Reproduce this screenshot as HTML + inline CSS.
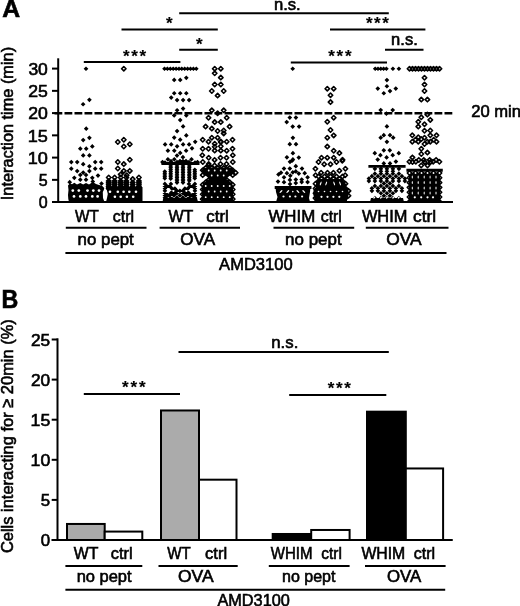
<!DOCTYPE html>
<html><head><meta charset="utf-8"><style>
html,body{margin:0;padding:0;background:#fff;width:520px;height:606px;overflow:hidden}
svg{display:block;filter:blur(0.35px)}
text{font-family:"Liberation Sans",sans-serif;fill:#000;stroke:#000;stroke-width:0.6px}
</style></head><body>
<svg width="520" height="606" viewBox="0 0 520 606">
<rect width="520" height="606" fill="#fff"/>
<defs><clipPath id="ca"><rect x="0" y="0" width="520" height="202"/></clipPath></defs><g clip-path="url(#ca)"><path d="M123.8 66.5l2.2 2.2 -2.2 2.2 -2.2 -2.2zM117.8 139.8l2.2 2.2 -2.2 2.2 -2.2 -2.2zM123.8 137.6l2.2 2.2 -2.2 2.2 -2.2 -2.2zM129.8 142.0l2.2 2.2 -2.2 2.2 -2.2 -2.2zM123.8 144.3l2.2 2.2 -2.2 2.2 -2.2 -2.2zM129.8 157.6l2.2 2.2 -2.2 2.2 -2.2 -2.2zM117.8 159.8l2.2 2.2 -2.2 2.2 -2.2 -2.2zM123.8 161.9l2.2 2.2 -2.2 2.2 -2.2 -2.2zM117.8 166.3l2.2 2.2 -2.2 2.2 -2.2 -2.2zM123.8 168.7l2.2 2.2 -2.2 2.2 -2.2 -2.2zM129.8 168.7l2.2 2.2 -2.2 2.2 -2.2 -2.2zM120.7 172.2l2.2 2.2 -2.2 2.2 -2.2 -2.2zM126.7 173.0l2.2 2.2 -2.2 2.2 -2.2 -2.2zM132.7 176.8l2.2 2.2 -2.2 2.2 -2.2 -2.2zM138.9 175.3l2.2 2.2 -2.2 2.2 -2.2 -2.2zM108.7 175.3l2.2 2.2 -2.2 2.2 -2.2 -2.2zM108.7 178.8l2.2 2.2 -2.2 2.2 -2.2 -2.2zM108.7 180.7l2.2 2.2 -2.2 2.2 -2.2 -2.2zM108.7 182.6l2.2 2.2 -2.2 2.2 -2.2 -2.2zM108.7 184.4l2.2 2.2 -2.2 2.2 -2.2 -2.2zM108.7 186.3l2.2 2.2 -2.2 2.2 -2.2 -2.2zM114.6 175.3l2.2 2.2 -2.2 2.2 -2.2 -2.2zM114.6 178.8l2.2 2.2 -2.2 2.2 -2.2 -2.2zM114.6 180.7l2.2 2.2 -2.2 2.2 -2.2 -2.2zM114.6 182.6l2.2 2.2 -2.2 2.2 -2.2 -2.2zM114.6 184.4l2.2 2.2 -2.2 2.2 -2.2 -2.2zM114.6 186.3l2.2 2.2 -2.2 2.2 -2.2 -2.2zM120.7 175.3l2.2 2.2 -2.2 2.2 -2.2 -2.2zM120.7 178.8l2.2 2.2 -2.2 2.2 -2.2 -2.2zM120.7 180.7l2.2 2.2 -2.2 2.2 -2.2 -2.2zM120.7 182.6l2.2 2.2 -2.2 2.2 -2.2 -2.2zM120.7 184.4l2.2 2.2 -2.2 2.2 -2.2 -2.2zM120.7 186.3l2.2 2.2 -2.2 2.2 -2.2 -2.2zM126.4 175.3l2.2 2.2 -2.2 2.2 -2.2 -2.2zM126.4 178.8l2.2 2.2 -2.2 2.2 -2.2 -2.2zM126.4 180.7l2.2 2.2 -2.2 2.2 -2.2 -2.2zM126.4 182.6l2.2 2.2 -2.2 2.2 -2.2 -2.2zM126.4 184.4l2.2 2.2 -2.2 2.2 -2.2 -2.2zM126.4 186.3l2.2 2.2 -2.2 2.2 -2.2 -2.2zM132.7 177.0l2.2 2.2 -2.2 2.2 -2.2 -2.2zM132.7 180.3l2.2 2.2 -2.2 2.2 -2.2 -2.2zM132.7 182.3l2.2 2.2 -2.2 2.2 -2.2 -2.2zM132.7 184.3l2.2 2.2 -2.2 2.2 -2.2 -2.2zM132.7 186.3l2.2 2.2 -2.2 2.2 -2.2 -2.2zM138.9 175.3l2.2 2.2 -2.2 2.2 -2.2 -2.2zM138.9 178.8l2.2 2.2 -2.2 2.2 -2.2 -2.2zM138.9 180.7l2.2 2.2 -2.2 2.2 -2.2 -2.2zM138.9 182.6l2.2 2.2 -2.2 2.2 -2.2 -2.2zM138.9 184.4l2.2 2.2 -2.2 2.2 -2.2 -2.2zM138.9 186.3l2.2 2.2 -2.2 2.2 -2.2 -2.2zM214.7 66.5l2.2 2.2 -2.2 2.2 -2.2 -2.2zM220.8 66.5l2.2 2.2 -2.2 2.2 -2.2 -2.2zM214.7 71.1l2.2 2.2 -2.2 2.2 -2.2 -2.2zM220.8 75.4l2.2 2.2 -2.2 2.2 -2.2 -2.2zM214.7 82.3l2.2 2.2 -2.2 2.2 -2.2 -2.2zM220.8 82.3l2.2 2.2 -2.2 2.2 -2.2 -2.2zM211.8 88.8l2.2 2.2 -2.2 2.2 -2.2 -2.2zM223.7 88.8l2.2 2.2 -2.2 2.2 -2.2 -2.2zM217.6 93.4l2.2 2.2 -2.2 2.2 -2.2 -2.2zM211.8 108.1l2.2 2.2 -2.2 2.2 -2.2 -2.2zM223.7 108.1l2.2 2.2 -2.2 2.2 -2.2 -2.2zM217.6 111.0l2.2 2.2 -2.2 2.2 -2.2 -2.2zM208.5 115.6l2.2 2.2 -2.2 2.2 -2.2 -2.2zM226.7 115.6l2.2 2.2 -2.2 2.2 -2.2 -2.2zM214.7 119.9l2.2 2.2 -2.2 2.2 -2.2 -2.2zM220.8 119.9l2.2 2.2 -2.2 2.2 -2.2 -2.2zM205.6 124.4l2.2 2.2 -2.2 2.2 -2.2 -2.2zM229.6 124.4l2.2 2.2 -2.2 2.2 -2.2 -2.2zM211.8 126.4l2.2 2.2 -2.2 2.2 -2.2 -2.2zM217.6 128.8l2.2 2.2 -2.2 2.2 -2.2 -2.2zM223.7 128.3l2.2 2.2 -2.2 2.2 -2.2 -2.2zM223.7 131.2l2.2 2.2 -2.2 2.2 -2.2 -2.2zM211.8 135.5l2.2 2.2 -2.2 2.2 -2.2 -2.2zM217.6 135.5l2.2 2.2 -2.2 2.2 -2.2 -2.2zM202.7 137.6l2.2 2.2 -2.2 2.2 -2.2 -2.2zM232.5 137.6l2.2 2.2 -2.2 2.2 -2.2 -2.2zM208.5 139.5l2.2 2.2 -2.2 2.2 -2.2 -2.2zM220.8 139.3l2.2 2.2 -2.2 2.2 -2.2 -2.2zM226.7 139.5l2.2 2.2 -2.2 2.2 -2.2 -2.2zM214.7 141.6l2.2 2.2 -2.2 2.2 -2.2 -2.2zM214.7 144.6l2.2 2.2 -2.2 2.2 -2.2 -2.2zM214.7 148.4l2.2 2.2 -2.2 2.2 -2.2 -2.2zM220.8 139.9l2.2 2.2 -2.2 2.2 -2.2 -2.2zM220.8 144.1l2.2 2.2 -2.2 2.2 -2.2 -2.2zM220.8 148.4l2.2 2.2 -2.2 2.2 -2.2 -2.2zM202.7 146.6l2.2 2.2 -2.2 2.2 -2.2 -2.2zM208.5 146.6l2.2 2.2 -2.2 2.2 -2.2 -2.2zM226.7 148.5l2.2 2.2 -2.2 2.2 -2.2 -2.2zM232.5 146.6l2.2 2.2 -2.2 2.2 -2.2 -2.2zM202.3 153.0l2.2 2.2 -2.2 2.2 -2.2 -2.2zM208.7 155.6l2.2 2.2 -2.2 2.2 -2.2 -2.2zM214.6 157.7l2.2 2.2 -2.2 2.2 -2.2 -2.2zM220.5 155.6l2.2 2.2 -2.2 2.2 -2.2 -2.2zM226.5 155.6l2.2 2.2 -2.2 2.2 -2.2 -2.2zM232.8 153.0l2.2 2.2 -2.2 2.2 -2.2 -2.2zM202.8 159.8l2.2 2.2 -2.2 2.2 -2.2 -2.2zM232.8 159.8l2.2 2.2 -2.2 2.2 -2.2 -2.2zM208.7 161.8l2.2 2.2 -2.2 2.2 -2.2 -2.2zM214.6 163.3l2.2 2.2 -2.2 2.2 -2.2 -2.2zM220.5 161.8l2.2 2.2 -2.2 2.2 -2.2 -2.2zM226.5 161.8l2.2 2.2 -2.2 2.2 -2.2 -2.2zM208.7 163.3l2.2 2.2 -2.2 2.2 -2.2 -2.2zM205.7 165.7l2.2 2.2 -2.2 2.2 -2.2 -2.2zM211.7 165.7l2.2 2.2 -2.2 2.2 -2.2 -2.2zM217.7 165.7l2.2 2.2 -2.2 2.2 -2.2 -2.2zM223.7 165.7l2.2 2.2 -2.2 2.2 -2.2 -2.2zM229.7 165.7l2.2 2.2 -2.2 2.2 -2.2 -2.2zM202.7 168.1l2.2 2.2 -2.2 2.2 -2.2 -2.2zM208.7 168.1l2.2 2.2 -2.2 2.2 -2.2 -2.2zM214.7 168.1l2.2 2.2 -2.2 2.2 -2.2 -2.2zM220.7 168.1l2.2 2.2 -2.2 2.2 -2.2 -2.2zM226.7 168.1l2.2 2.2 -2.2 2.2 -2.2 -2.2zM232.7 168.1l2.2 2.2 -2.2 2.2 -2.2 -2.2zM205.7 170.5l2.2 2.2 -2.2 2.2 -2.2 -2.2zM211.7 170.5l2.2 2.2 -2.2 2.2 -2.2 -2.2zM217.7 170.5l2.2 2.2 -2.2 2.2 -2.2 -2.2zM223.7 170.5l2.2 2.2 -2.2 2.2 -2.2 -2.2zM229.7 170.5l2.2 2.2 -2.2 2.2 -2.2 -2.2zM235.7 170.5l2.2 2.2 -2.2 2.2 -2.2 -2.2zM202.7 172.9l2.2 2.2 -2.2 2.2 -2.2 -2.2zM208.7 172.9l2.2 2.2 -2.2 2.2 -2.2 -2.2zM214.7 172.9l2.2 2.2 -2.2 2.2 -2.2 -2.2zM220.7 172.9l2.2 2.2 -2.2 2.2 -2.2 -2.2zM226.7 172.9l2.2 2.2 -2.2 2.2 -2.2 -2.2zM232.7 172.9l2.2 2.2 -2.2 2.2 -2.2 -2.2zM211.7 175.3l2.2 2.2 -2.2 2.2 -2.2 -2.2zM217.7 175.3l2.2 2.2 -2.2 2.2 -2.2 -2.2zM223.7 175.3l2.2 2.2 -2.2 2.2 -2.2 -2.2zM208.7 177.7l2.2 2.2 -2.2 2.2 -2.2 -2.2zM214.7 177.7l2.2 2.2 -2.2 2.2 -2.2 -2.2zM220.7 177.7l2.2 2.2 -2.2 2.2 -2.2 -2.2zM226.7 177.7l2.2 2.2 -2.2 2.2 -2.2 -2.2zM205.7 180.1l2.2 2.2 -2.2 2.2 -2.2 -2.2zM211.7 180.1l2.2 2.2 -2.2 2.2 -2.2 -2.2zM217.7 180.1l2.2 2.2 -2.2 2.2 -2.2 -2.2zM223.7 180.1l2.2 2.2 -2.2 2.2 -2.2 -2.2zM229.7 180.1l2.2 2.2 -2.2 2.2 -2.2 -2.2zM202.7 182.5l2.2 2.2 -2.2 2.2 -2.2 -2.2zM208.7 182.5l2.2 2.2 -2.2 2.2 -2.2 -2.2zM214.7 182.5l2.2 2.2 -2.2 2.2 -2.2 -2.2zM220.7 182.5l2.2 2.2 -2.2 2.2 -2.2 -2.2zM226.7 182.5l2.2 2.2 -2.2 2.2 -2.2 -2.2zM232.7 182.5l2.2 2.2 -2.2 2.2 -2.2 -2.2zM205.7 184.9l2.2 2.2 -2.2 2.2 -2.2 -2.2zM211.7 184.9l2.2 2.2 -2.2 2.2 -2.2 -2.2zM217.7 184.9l2.2 2.2 -2.2 2.2 -2.2 -2.2zM223.7 184.9l2.2 2.2 -2.2 2.2 -2.2 -2.2zM229.7 184.9l2.2 2.2 -2.2 2.2 -2.2 -2.2zM202.7 187.3l2.2 2.2 -2.2 2.2 -2.2 -2.2zM208.7 187.3l2.2 2.2 -2.2 2.2 -2.2 -2.2zM214.7 187.3l2.2 2.2 -2.2 2.2 -2.2 -2.2zM220.7 187.3l2.2 2.2 -2.2 2.2 -2.2 -2.2zM226.7 187.3l2.2 2.2 -2.2 2.2 -2.2 -2.2zM232.7 187.3l2.2 2.2 -2.2 2.2 -2.2 -2.2zM205.7 189.7l2.2 2.2 -2.2 2.2 -2.2 -2.2zM211.7 189.7l2.2 2.2 -2.2 2.2 -2.2 -2.2zM217.7 189.7l2.2 2.2 -2.2 2.2 -2.2 -2.2zM223.7 189.7l2.2 2.2 -2.2 2.2 -2.2 -2.2zM229.7 189.7l2.2 2.2 -2.2 2.2 -2.2 -2.2zM202.7 192.1l2.2 2.2 -2.2 2.2 -2.2 -2.2zM208.7 192.1l2.2 2.2 -2.2 2.2 -2.2 -2.2zM214.7 192.1l2.2 2.2 -2.2 2.2 -2.2 -2.2zM220.7 192.1l2.2 2.2 -2.2 2.2 -2.2 -2.2zM226.7 192.1l2.2 2.2 -2.2 2.2 -2.2 -2.2zM232.7 192.1l2.2 2.2 -2.2 2.2 -2.2 -2.2zM205.7 194.5l2.2 2.2 -2.2 2.2 -2.2 -2.2zM211.7 194.5l2.2 2.2 -2.2 2.2 -2.2 -2.2zM217.7 194.5l2.2 2.2 -2.2 2.2 -2.2 -2.2zM223.7 194.5l2.2 2.2 -2.2 2.2 -2.2 -2.2zM229.7 194.5l2.2 2.2 -2.2 2.2 -2.2 -2.2zM202.7 196.9l2.2 2.2 -2.2 2.2 -2.2 -2.2zM208.7 196.9l2.2 2.2 -2.2 2.2 -2.2 -2.2zM214.7 196.9l2.2 2.2 -2.2 2.2 -2.2 -2.2zM220.7 196.9l2.2 2.2 -2.2 2.2 -2.2 -2.2zM226.7 196.9l2.2 2.2 -2.2 2.2 -2.2 -2.2zM232.7 196.9l2.2 2.2 -2.2 2.2 -2.2 -2.2zM205.7 199.3l2.2 2.2 -2.2 2.2 -2.2 -2.2zM211.7 199.3l2.2 2.2 -2.2 2.2 -2.2 -2.2zM217.7 199.3l2.2 2.2 -2.2 2.2 -2.2 -2.2zM223.7 199.3l2.2 2.2 -2.2 2.2 -2.2 -2.2zM229.7 199.3l2.2 2.2 -2.2 2.2 -2.2 -2.2zM327.3 86.5l2.2 2.2 -2.2 2.2 -2.2 -2.2zM333.7 86.5l2.2 2.2 -2.2 2.2 -2.2 -2.2zM330.5 93.0l2.2 2.2 -2.2 2.2 -2.2 -2.2zM330.5 99.9l2.2 2.2 -2.2 2.2 -2.2 -2.2zM333.7 115.5l2.2 2.2 -2.2 2.2 -2.2 -2.2zM327.3 119.6l2.2 2.2 -2.2 2.2 -2.2 -2.2zM330.5 127.8l2.2 2.2 -2.2 2.2 -2.2 -2.2zM333.7 133.2l2.2 2.2 -2.2 2.2 -2.2 -2.2zM327.3 135.5l2.2 2.2 -2.2 2.2 -2.2 -2.2zM327.3 144.4l2.2 2.2 -2.2 2.2 -2.2 -2.2zM333.7 148.6l2.2 2.2 -2.2 2.2 -2.2 -2.2zM339.4 150.9l2.2 2.2 -2.2 2.2 -2.2 -2.2zM321.5 155.5l2.2 2.2 -2.2 2.2 -2.2 -2.2zM327.3 155.5l2.2 2.2 -2.2 2.2 -2.2 -2.2zM333.7 155.5l2.2 2.2 -2.2 2.2 -2.2 -2.2zM342.5 157.6l2.2 2.2 -2.2 2.2 -2.2 -2.2zM318.5 159.8l2.2 2.2 -2.2 2.2 -2.2 -2.2zM324.2 162.0l2.2 2.2 -2.2 2.2 -2.2 -2.2zM330.5 162.0l2.2 2.2 -2.2 2.2 -2.2 -2.2zM336.5 159.8l2.2 2.2 -2.2 2.2 -2.2 -2.2zM342.3 158.6l2.2 2.2 -2.2 2.2 -2.2 -2.2zM315.4 166.6l2.2 2.2 -2.2 2.2 -2.2 -2.2zM345.4 166.6l2.2 2.2 -2.2 2.2 -2.2 -2.2zM339.4 168.5l2.2 2.2 -2.2 2.2 -2.2 -2.2zM315.6 173.0l2.2 2.2 -2.2 2.2 -2.2 -2.2zM345.2 173.0l2.2 2.2 -2.2 2.2 -2.2 -2.2zM321.1 170.5l2.2 2.2 -2.2 2.2 -2.2 -2.2zM327.5 170.5l2.2 2.2 -2.2 2.2 -2.2 -2.2zM333.4 170.5l2.2 2.2 -2.2 2.2 -2.2 -2.2zM318.5 174.3l2.2 2.2 -2.2 2.2 -2.2 -2.2zM324.5 174.3l2.2 2.2 -2.2 2.2 -2.2 -2.2zM330.5 174.3l2.2 2.2 -2.2 2.2 -2.2 -2.2zM336.5 174.3l2.2 2.2 -2.2 2.2 -2.2 -2.2zM342.5 174.3l2.2 2.2 -2.2 2.2 -2.2 -2.2zM321.5 176.7l2.2 2.2 -2.2 2.2 -2.2 -2.2zM327.5 176.7l2.2 2.2 -2.2 2.2 -2.2 -2.2zM333.5 176.7l2.2 2.2 -2.2 2.2 -2.2 -2.2zM339.5 176.7l2.2 2.2 -2.2 2.2 -2.2 -2.2zM318.5 179.1l2.2 2.2 -2.2 2.2 -2.2 -2.2zM324.5 179.1l2.2 2.2 -2.2 2.2 -2.2 -2.2zM330.5 179.1l2.2 2.2 -2.2 2.2 -2.2 -2.2zM336.5 179.1l2.2 2.2 -2.2 2.2 -2.2 -2.2zM342.5 179.1l2.2 2.2 -2.2 2.2 -2.2 -2.2zM315.5 181.5l2.2 2.2 -2.2 2.2 -2.2 -2.2zM321.5 181.5l2.2 2.2 -2.2 2.2 -2.2 -2.2zM327.5 181.5l2.2 2.2 -2.2 2.2 -2.2 -2.2zM333.5 181.5l2.2 2.2 -2.2 2.2 -2.2 -2.2zM339.5 181.5l2.2 2.2 -2.2 2.2 -2.2 -2.2zM345.5 181.5l2.2 2.2 -2.2 2.2 -2.2 -2.2zM318.5 183.9l2.2 2.2 -2.2 2.2 -2.2 -2.2zM324.5 183.9l2.2 2.2 -2.2 2.2 -2.2 -2.2zM330.5 183.9l2.2 2.2 -2.2 2.2 -2.2 -2.2zM336.5 183.9l2.2 2.2 -2.2 2.2 -2.2 -2.2zM342.5 183.9l2.2 2.2 -2.2 2.2 -2.2 -2.2zM315.5 186.3l2.2 2.2 -2.2 2.2 -2.2 -2.2zM321.5 186.3l2.2 2.2 -2.2 2.2 -2.2 -2.2zM327.5 186.3l2.2 2.2 -2.2 2.2 -2.2 -2.2zM333.5 186.3l2.2 2.2 -2.2 2.2 -2.2 -2.2zM339.5 186.3l2.2 2.2 -2.2 2.2 -2.2 -2.2zM345.5 186.3l2.2 2.2 -2.2 2.2 -2.2 -2.2zM318.5 188.7l2.2 2.2 -2.2 2.2 -2.2 -2.2zM324.5 188.7l2.2 2.2 -2.2 2.2 -2.2 -2.2zM330.5 188.7l2.2 2.2 -2.2 2.2 -2.2 -2.2zM336.5 188.7l2.2 2.2 -2.2 2.2 -2.2 -2.2zM342.5 188.7l2.2 2.2 -2.2 2.2 -2.2 -2.2zM348.5 188.7l2.2 2.2 -2.2 2.2 -2.2 -2.2zM315.5 191.1l2.2 2.2 -2.2 2.2 -2.2 -2.2zM321.5 191.1l2.2 2.2 -2.2 2.2 -2.2 -2.2zM327.5 191.1l2.2 2.2 -2.2 2.2 -2.2 -2.2zM333.5 191.1l2.2 2.2 -2.2 2.2 -2.2 -2.2zM339.5 191.1l2.2 2.2 -2.2 2.2 -2.2 -2.2zM345.5 191.1l2.2 2.2 -2.2 2.2 -2.2 -2.2zM318.5 193.5l2.2 2.2 -2.2 2.2 -2.2 -2.2zM324.5 193.5l2.2 2.2 -2.2 2.2 -2.2 -2.2zM330.5 193.5l2.2 2.2 -2.2 2.2 -2.2 -2.2zM336.5 193.5l2.2 2.2 -2.2 2.2 -2.2 -2.2zM342.5 193.5l2.2 2.2 -2.2 2.2 -2.2 -2.2zM348.5 193.5l2.2 2.2 -2.2 2.2 -2.2 -2.2zM315.5 195.9l2.2 2.2 -2.2 2.2 -2.2 -2.2zM321.5 195.9l2.2 2.2 -2.2 2.2 -2.2 -2.2zM327.5 195.9l2.2 2.2 -2.2 2.2 -2.2 -2.2zM333.5 195.9l2.2 2.2 -2.2 2.2 -2.2 -2.2zM339.5 195.9l2.2 2.2 -2.2 2.2 -2.2 -2.2zM345.5 195.9l2.2 2.2 -2.2 2.2 -2.2 -2.2zM318.5 198.3l2.2 2.2 -2.2 2.2 -2.2 -2.2zM324.5 198.3l2.2 2.2 -2.2 2.2 -2.2 -2.2zM330.5 198.3l2.2 2.2 -2.2 2.2 -2.2 -2.2zM336.5 198.3l2.2 2.2 -2.2 2.2 -2.2 -2.2zM342.5 198.3l2.2 2.2 -2.2 2.2 -2.2 -2.2zM409.5 66.5l2.2 2.2 -2.2 2.2 -2.2 -2.2zM412.5 66.5l2.2 2.2 -2.2 2.2 -2.2 -2.2zM415.5 66.5l2.2 2.2 -2.2 2.2 -2.2 -2.2zM418.5 66.5l2.2 2.2 -2.2 2.2 -2.2 -2.2zM421.5 66.5l2.2 2.2 -2.2 2.2 -2.2 -2.2zM424.5 66.5l2.2 2.2 -2.2 2.2 -2.2 -2.2zM427.5 66.5l2.2 2.2 -2.2 2.2 -2.2 -2.2zM430.5 66.5l2.2 2.2 -2.2 2.2 -2.2 -2.2zM433.5 66.5l2.2 2.2 -2.2 2.2 -2.2 -2.2zM436.5 66.5l2.2 2.2 -2.2 2.2 -2.2 -2.2zM439.5 66.5l2.2 2.2 -2.2 2.2 -2.2 -2.2zM424.5 75.6l2.2 2.2 -2.2 2.2 -2.2 -2.2zM424.5 82.3l2.2 2.2 -2.2 2.2 -2.2 -2.2zM424.5 88.8l2.2 2.2 -2.2 2.2 -2.2 -2.2zM421.3 97.4l2.2 2.2 -2.2 2.2 -2.2 -2.2zM427.4 97.4l2.2 2.2 -2.2 2.2 -2.2 -2.2zM427.4 112.4l2.2 2.2 -2.2 2.2 -2.2 -2.2zM421.3 115.1l2.2 2.2 -2.2 2.2 -2.2 -2.2zM430.3 117.7l2.2 2.2 -2.2 2.2 -2.2 -2.2zM418.3 119.6l2.2 2.2 -2.2 2.2 -2.2 -2.2zM424.5 122.0l2.2 2.2 -2.2 2.2 -2.2 -2.2zM418.3 124.4l2.2 2.2 -2.2 2.2 -2.2 -2.2zM424.5 128.6l2.2 2.2 -2.2 2.2 -2.2 -2.2zM430.3 128.3l2.2 2.2 -2.2 2.2 -2.2 -2.2zM412.3 133.1l2.2 2.2 -2.2 2.2 -2.2 -2.2zM430.3 133.1l2.2 2.2 -2.2 2.2 -2.2 -2.2zM436.5 133.1l2.2 2.2 -2.2 2.2 -2.2 -2.2zM418.3 135.0l2.2 2.2 -2.2 2.2 -2.2 -2.2zM421.3 136.9l2.2 2.2 -2.2 2.2 -2.2 -2.2zM424.5 135.5l2.2 2.2 -2.2 2.2 -2.2 -2.2zM415.4 137.6l2.2 2.2 -2.2 2.2 -2.2 -2.2zM412.3 139.5l2.2 2.2 -2.2 2.2 -2.2 -2.2zM418.3 139.5l2.2 2.2 -2.2 2.2 -2.2 -2.2zM433.7 137.6l2.2 2.2 -2.2 2.2 -2.2 -2.2zM427.4 139.5l2.2 2.2 -2.2 2.2 -2.2 -2.2zM430.3 139.5l2.2 2.2 -2.2 2.2 -2.2 -2.2zM436.5 139.5l2.2 2.2 -2.2 2.2 -2.2 -2.2zM424.5 141.8l2.2 2.2 -2.2 2.2 -2.2 -2.2zM421.3 146.6l2.2 2.2 -2.2 2.2 -2.2 -2.2zM421.3 151.8l2.2 2.2 -2.2 2.2 -2.2 -2.2zM427.4 150.4l2.2 2.2 -2.2 2.2 -2.2 -2.2zM412.4 155.2l2.2 2.2 -2.2 2.2 -2.2 -2.2zM423.8 157.7l2.2 2.2 -2.2 2.2 -2.2 -2.2zM429.7 157.7l2.2 2.2 -2.2 2.2 -2.2 -2.2zM409.4 159.6l2.2 2.2 -2.2 2.2 -2.2 -2.2zM415.8 159.6l2.2 2.2 -2.2 2.2 -2.2 -2.2zM418.8 157.7l2.2 2.2 -2.2 2.2 -2.2 -2.2zM433.2 159.6l2.2 2.2 -2.2 2.2 -2.2 -2.2zM436.1 157.7l2.2 2.2 -2.2 2.2 -2.2 -2.2zM439.4 159.6l2.2 2.2 -2.2 2.2 -2.2 -2.2zM421.2 163.3l2.2 2.2 -2.2 2.2 -2.2 -2.2zM427.5 163.3l2.2 2.2 -2.2 2.2 -2.2 -2.2zM412.5 159.8l2.2 2.2 -2.2 2.2 -2.2 -2.2zM424.5 159.8l2.2 2.2 -2.2 2.2 -2.2 -2.2zM430.6 159.8l2.2 2.2 -2.2 2.2 -2.2 -2.2zM409.5 170.8l2.2 2.2 -2.2 2.2 -2.2 -2.2zM415.5 170.8l2.2 2.2 -2.2 2.2 -2.2 -2.2zM421.5 170.8l2.2 2.2 -2.2 2.2 -2.2 -2.2zM427.5 170.8l2.2 2.2 -2.2 2.2 -2.2 -2.2zM433.5 170.8l2.2 2.2 -2.2 2.2 -2.2 -2.2zM439.5 170.8l2.2 2.2 -2.2 2.2 -2.2 -2.2zM412.5 173.2l2.2 2.2 -2.2 2.2 -2.2 -2.2zM418.5 173.2l2.2 2.2 -2.2 2.2 -2.2 -2.2zM424.5 173.2l2.2 2.2 -2.2 2.2 -2.2 -2.2zM430.5 173.2l2.2 2.2 -2.2 2.2 -2.2 -2.2zM436.5 173.2l2.2 2.2 -2.2 2.2 -2.2 -2.2zM409.5 175.6l2.2 2.2 -2.2 2.2 -2.2 -2.2zM415.5 175.6l2.2 2.2 -2.2 2.2 -2.2 -2.2zM421.5 175.6l2.2 2.2 -2.2 2.2 -2.2 -2.2zM427.5 175.6l2.2 2.2 -2.2 2.2 -2.2 -2.2zM433.5 175.6l2.2 2.2 -2.2 2.2 -2.2 -2.2zM439.5 175.6l2.2 2.2 -2.2 2.2 -2.2 -2.2zM412.5 178.0l2.2 2.2 -2.2 2.2 -2.2 -2.2zM418.5 178.0l2.2 2.2 -2.2 2.2 -2.2 -2.2zM424.5 178.0l2.2 2.2 -2.2 2.2 -2.2 -2.2zM430.5 178.0l2.2 2.2 -2.2 2.2 -2.2 -2.2zM436.5 178.0l2.2 2.2 -2.2 2.2 -2.2 -2.2zM409.5 180.4l2.2 2.2 -2.2 2.2 -2.2 -2.2zM415.5 180.4l2.2 2.2 -2.2 2.2 -2.2 -2.2zM421.5 180.4l2.2 2.2 -2.2 2.2 -2.2 -2.2zM427.5 180.4l2.2 2.2 -2.2 2.2 -2.2 -2.2zM433.5 180.4l2.2 2.2 -2.2 2.2 -2.2 -2.2zM439.5 180.4l2.2 2.2 -2.2 2.2 -2.2 -2.2zM412.5 182.8l2.2 2.2 -2.2 2.2 -2.2 -2.2zM418.5 182.8l2.2 2.2 -2.2 2.2 -2.2 -2.2zM424.5 182.8l2.2 2.2 -2.2 2.2 -2.2 -2.2zM430.5 182.8l2.2 2.2 -2.2 2.2 -2.2 -2.2zM436.5 182.8l2.2 2.2 -2.2 2.2 -2.2 -2.2zM409.5 185.2l2.2 2.2 -2.2 2.2 -2.2 -2.2zM415.5 185.2l2.2 2.2 -2.2 2.2 -2.2 -2.2zM421.5 185.2l2.2 2.2 -2.2 2.2 -2.2 -2.2zM427.5 185.2l2.2 2.2 -2.2 2.2 -2.2 -2.2zM433.5 185.2l2.2 2.2 -2.2 2.2 -2.2 -2.2zM439.5 185.2l2.2 2.2 -2.2 2.2 -2.2 -2.2zM412.5 187.6l2.2 2.2 -2.2 2.2 -2.2 -2.2zM418.5 187.6l2.2 2.2 -2.2 2.2 -2.2 -2.2zM424.5 187.6l2.2 2.2 -2.2 2.2 -2.2 -2.2zM430.5 187.6l2.2 2.2 -2.2 2.2 -2.2 -2.2zM436.5 187.6l2.2 2.2 -2.2 2.2 -2.2 -2.2zM409.5 190.0l2.2 2.2 -2.2 2.2 -2.2 -2.2zM415.5 190.0l2.2 2.2 -2.2 2.2 -2.2 -2.2zM421.5 190.0l2.2 2.2 -2.2 2.2 -2.2 -2.2zM427.5 190.0l2.2 2.2 -2.2 2.2 -2.2 -2.2zM433.5 190.0l2.2 2.2 -2.2 2.2 -2.2 -2.2zM439.5 190.0l2.2 2.2 -2.2 2.2 -2.2 -2.2zM412.5 192.4l2.2 2.2 -2.2 2.2 -2.2 -2.2zM418.5 192.4l2.2 2.2 -2.2 2.2 -2.2 -2.2zM424.5 192.4l2.2 2.2 -2.2 2.2 -2.2 -2.2zM430.5 192.4l2.2 2.2 -2.2 2.2 -2.2 -2.2zM436.5 192.4l2.2 2.2 -2.2 2.2 -2.2 -2.2zM409.5 194.8l2.2 2.2 -2.2 2.2 -2.2 -2.2zM415.5 194.8l2.2 2.2 -2.2 2.2 -2.2 -2.2zM421.5 194.8l2.2 2.2 -2.2 2.2 -2.2 -2.2zM427.5 194.8l2.2 2.2 -2.2 2.2 -2.2 -2.2zM433.5 194.8l2.2 2.2 -2.2 2.2 -2.2 -2.2zM439.5 194.8l2.2 2.2 -2.2 2.2 -2.2 -2.2zM412.5 197.2l2.2 2.2 -2.2 2.2 -2.2 -2.2zM418.5 197.2l2.2 2.2 -2.2 2.2 -2.2 -2.2zM424.5 197.2l2.2 2.2 -2.2 2.2 -2.2 -2.2zM430.5 197.2l2.2 2.2 -2.2 2.2 -2.2 -2.2zM436.5 197.2l2.2 2.2 -2.2 2.2 -2.2 -2.2zM409.5 199.6l2.2 2.2 -2.2 2.2 -2.2 -2.2zM415.5 199.6l2.2 2.2 -2.2 2.2 -2.2 -2.2zM421.5 199.6l2.2 2.2 -2.2 2.2 -2.2 -2.2zM427.5 199.6l2.2 2.2 -2.2 2.2 -2.2 -2.2zM433.5 199.6l2.2 2.2 -2.2 2.2 -2.2 -2.2zM439.5 199.6l2.2 2.2 -2.2 2.2 -2.2 -2.2z" fill="none" stroke="#000" stroke-width="1.6" stroke-linejoin="round"/>
<polygon points="69,202 68.3,199 68,195 68.5,190 68,185.5 70,183.3 72,184.2 74.3,182.8 77,184.5 80.3,183 83.2,184.6 86,183 89,184.5 92.8,182 96,184 99,185 102,185.8 104.3,188 103.8,190 102.8,192 103,198 104.5,202" fill="#000"/>
<polygon points="106,202 107,198 107.8,194 106.8,190 105.8,187 142.5,187 142.5,202" fill="#000"/>
<polygon points="163.5,198 197,198 198,202 162.5,202" fill="#000"/>
<polygon points="206,167.5 230,167.5 234.5,170 232,174 225.5,178.2 232,183.5 233,186 233,202 202,202 202,186 203,183.5 210,178.2 203.5,174 201,170" fill="#000"/>
<polygon points="275.5,187 310.5,187 310,192 309,198 310,202 276,202 277.5,197 276,192" fill="#000"/>
<polygon points="318,179 342,179 346,184 346,190 316,190 316,184" fill="#000"/>
<polygon points="315,188 347,188 348.5,190 348.5,195.5 347,198 347,202 314.5,202 314.5,198 313.5,195.5 313.5,190" fill="#000"/>
<polygon points="371,198 403,198 404,202 370,202" fill="#000"/>
<polygon points="409,174 440,174 440,202 409,202" fill="#000"/>
<path d="M86.0 66.4l2.35 2.35 -2.35 2.35 -2.35 -2.35zM89.4 97.5l2.35 2.35 -2.35 2.35 -2.35 -2.35zM83.1 101.9l2.35 2.35 -2.35 2.35 -2.35 -2.35zM86.2 126.3l2.35 2.35 -2.35 2.35 -2.35 -2.35zM89.4 135.5l2.35 2.35 -2.35 2.35 -2.35 -2.35zM83.2 137.7l2.35 2.35 -2.35 2.35 -2.35 -2.35zM80.3 146.3l2.35 2.35 -2.35 2.35 -2.35 -2.35zM86.2 146.3l2.35 2.35 -2.35 2.35 -2.35 -2.35zM92.3 144.1l2.35 2.35 -2.35 2.35 -2.35 -2.35zM83.2 153.1l2.35 2.35 -2.35 2.35 -2.35 -2.35zM89.4 153.1l2.35 2.35 -2.35 2.35 -2.35 -2.35zM71.3 159.7l2.35 2.35 -2.35 2.35 -2.35 -2.35zM77.2 159.7l2.35 2.35 -2.35 2.35 -2.35 -2.35zM95.2 159.7l2.35 2.35 -2.35 2.35 -2.35 -2.35zM101.2 159.7l2.35 2.35 -2.35 2.35 -2.35 -2.35zM83.2 161.8l2.35 2.35 -2.35 2.35 -2.35 -2.35zM89.4 164.0l2.35 2.35 -2.35 2.35 -2.35 -2.35zM71.3 166.3l2.35 2.35 -2.35 2.35 -2.35 -2.35zM95.2 166.3l2.35 2.35 -2.35 2.35 -2.35 -2.35zM101.2 166.3l2.35 2.35 -2.35 2.35 -2.35 -2.35zM77.2 168.7l2.35 2.35 -2.35 2.35 -2.35 -2.35zM89.4 168.7l2.35 2.35 -2.35 2.35 -2.35 -2.35zM83.2 170.2l2.35 2.35 -2.35 2.35 -2.35 -2.35zM80.3 172.6l2.35 2.35 -2.35 2.35 -2.35 -2.35zM86.0 172.6l2.35 2.35 -2.35 2.35 -2.35 -2.35zM98.0 173.2l2.35 2.35 -2.35 2.35 -2.35 -2.35zM74.3 175.5l2.35 2.35 -2.35 2.35 -2.35 -2.35zM92.3 175.5l2.35 2.35 -2.35 2.35 -2.35 -2.35zM80.3 177.3l2.35 2.35 -2.35 2.35 -2.35 -2.35zM86.0 177.3l2.35 2.35 -2.35 2.35 -2.35 -2.35zM69.7 179.8l2.35 2.35 -2.35 2.35 -2.35 -2.35zM92.8 179.2l2.35 2.35 -2.35 2.35 -2.35 -2.35zM101.5 181.2l2.35 2.35 -2.35 2.35 -2.35 -2.35zM164.5 66.4l2.35 2.35 -2.35 2.35 -2.35 -2.35zM167.4 66.4l2.35 2.35 -2.35 2.35 -2.35 -2.35zM170.3 66.4l2.35 2.35 -2.35 2.35 -2.35 -2.35zM173.2 66.4l2.35 2.35 -2.35 2.35 -2.35 -2.35zM176.1 66.4l2.35 2.35 -2.35 2.35 -2.35 -2.35zM179.0 66.4l2.35 2.35 -2.35 2.35 -2.35 -2.35zM181.8 66.4l2.35 2.35 -2.35 2.35 -2.35 -2.35zM184.7 66.4l2.35 2.35 -2.35 2.35 -2.35 -2.35zM187.6 66.4l2.35 2.35 -2.35 2.35 -2.35 -2.35zM190.5 66.4l2.35 2.35 -2.35 2.35 -2.35 -2.35zM193.4 66.4l2.35 2.35 -2.35 2.35 -2.35 -2.35zM196.3 66.4l2.35 2.35 -2.35 2.35 -2.35 -2.35zM174.2 77.6l2.35 2.35 -2.35 2.35 -2.35 -2.35zM180.2 77.6l2.35 2.35 -2.35 2.35 -2.35 -2.35zM186.3 75.5l2.35 2.35 -2.35 2.35 -2.35 -2.35zM174.2 90.9l2.35 2.35 -2.35 2.35 -2.35 -2.35zM180.2 90.9l2.35 2.35 -2.35 2.35 -2.35 -2.35zM186.3 90.9l2.35 2.35 -2.35 2.35 -2.35 -2.35zM171.2 95.2l2.35 2.35 -2.35 2.35 -2.35 -2.35zM177.1 97.7l2.35 2.35 -2.35 2.35 -2.35 -2.35zM183.1 97.7l2.35 2.35 -2.35 2.35 -2.35 -2.35zM189.1 97.7l2.35 2.35 -2.35 2.35 -2.35 -2.35zM183.1 106.2l2.35 2.35 -2.35 2.35 -2.35 -2.35zM177.1 107.9l2.35 2.35 -2.35 2.35 -2.35 -2.35zM174.2 113.1l2.35 2.35 -2.35 2.35 -2.35 -2.35zM186.3 113.1l2.35 2.35 -2.35 2.35 -2.35 -2.35zM180.2 117.7l2.35 2.35 -2.35 2.35 -2.35 -2.35zM183.1 124.1l2.35 2.35 -2.35 2.35 -2.35 -2.35zM177.1 128.7l2.35 2.35 -2.35 2.35 -2.35 -2.35zM186.3 133.1l2.35 2.35 -2.35 2.35 -2.35 -2.35zM174.2 135.2l2.35 2.35 -2.35 2.35 -2.35 -2.35zM180.2 137.3l2.35 2.35 -2.35 2.35 -2.35 -2.35zM195.2 139.5l2.35 2.35 -2.35 2.35 -2.35 -2.35zM165.1 142.1l2.35 2.35 -2.35 2.35 -2.35 -2.35zM171.2 142.1l2.35 2.35 -2.35 2.35 -2.35 -2.35zM183.1 142.1l2.35 2.35 -2.35 2.35 -2.35 -2.35zM189.1 142.1l2.35 2.35 -2.35 2.35 -2.35 -2.35zM177.1 144.0l2.35 2.35 -2.35 2.35 -2.35 -2.35zM192.0 146.0l2.35 2.35 -2.35 2.35 -2.35 -2.35zM167.9 148.3l2.35 2.35 -2.35 2.35 -2.35 -2.35zM174.3 148.3l2.35 2.35 -2.35 2.35 -2.35 -2.35zM186.1 148.3l2.35 2.35 -2.35 2.35 -2.35 -2.35zM180.2 150.6l2.35 2.35 -2.35 2.35 -2.35 -2.35zM177.0 153.2l2.35 2.35 -2.35 2.35 -2.35 -2.35zM182.9 154.8l2.35 2.35 -2.35 2.35 -2.35 -2.35zM167.9 157.0l2.35 2.35 -2.35 2.35 -2.35 -2.35zM174.3 157.0l2.35 2.35 -2.35 2.35 -2.35 -2.35zM191.5 157.0l2.35 2.35 -2.35 2.35 -2.35 -2.35zM186.0 158.7l2.35 2.35 -2.35 2.35 -2.35 -2.35zM180.0 158.7l2.35 2.35 -2.35 2.35 -2.35 -2.35zM162.5 159.7l2.35 2.35 -2.35 2.35 -2.35 -2.35zM197.5 159.7l2.35 2.35 -2.35 2.35 -2.35 -2.35zM164.8 169.2l2.35 2.35 -2.35 2.35 -2.35 -2.35zM164.8 170.8l2.35 2.35 -2.35 2.35 -2.35 -2.35zM164.8 172.6l2.35 2.35 -2.35 2.35 -2.35 -2.35zM164.8 174.3l2.35 2.35 -2.35 2.35 -2.35 -2.35zM164.8 176.0l2.35 2.35 -2.35 2.35 -2.35 -2.35zM170.7 163.7l2.35 2.35 -2.35 2.35 -2.35 -2.35zM170.7 165.5l2.35 2.35 -2.35 2.35 -2.35 -2.35zM170.7 167.3l2.35 2.35 -2.35 2.35 -2.35 -2.35zM170.7 169.1l2.35 2.35 -2.35 2.35 -2.35 -2.35zM170.7 170.9l2.35 2.35 -2.35 2.35 -2.35 -2.35zM170.7 172.7l2.35 2.35 -2.35 2.35 -2.35 -2.35zM170.7 174.5l2.35 2.35 -2.35 2.35 -2.35 -2.35zM170.7 176.3l2.35 2.35 -2.35 2.35 -2.35 -2.35zM177.0 163.7l2.35 2.35 -2.35 2.35 -2.35 -2.35zM177.0 165.3l2.35 2.35 -2.35 2.35 -2.35 -2.35zM177.0 167.0l2.35 2.35 -2.35 2.35 -2.35 -2.35zM177.0 168.6l2.35 2.35 -2.35 2.35 -2.35 -2.35zM177.0 170.2l2.35 2.35 -2.35 2.35 -2.35 -2.35zM177.0 171.9l2.35 2.35 -2.35 2.35 -2.35 -2.35zM177.0 173.6l2.35 2.35 -2.35 2.35 -2.35 -2.35zM177.0 175.2l2.35 2.35 -2.35 2.35 -2.35 -2.35zM177.0 176.8l2.35 2.35 -2.35 2.35 -2.35 -2.35zM177.0 178.5l2.35 2.35 -2.35 2.35 -2.35 -2.35zM177.0 180.2l2.35 2.35 -2.35 2.35 -2.35 -2.35zM183.0 163.7l2.35 2.35 -2.35 2.35 -2.35 -2.35zM183.0 165.3l2.35 2.35 -2.35 2.35 -2.35 -2.35zM183.0 167.0l2.35 2.35 -2.35 2.35 -2.35 -2.35zM183.0 168.6l2.35 2.35 -2.35 2.35 -2.35 -2.35zM183.0 170.2l2.35 2.35 -2.35 2.35 -2.35 -2.35zM183.0 171.9l2.35 2.35 -2.35 2.35 -2.35 -2.35zM183.0 173.6l2.35 2.35 -2.35 2.35 -2.35 -2.35zM183.0 175.2l2.35 2.35 -2.35 2.35 -2.35 -2.35zM183.0 176.8l2.35 2.35 -2.35 2.35 -2.35 -2.35zM183.0 178.5l2.35 2.35 -2.35 2.35 -2.35 -2.35zM183.0 180.2l2.35 2.35 -2.35 2.35 -2.35 -2.35zM189.3 163.7l2.35 2.35 -2.35 2.35 -2.35 -2.35zM189.3 165.3l2.35 2.35 -2.35 2.35 -2.35 -2.35zM189.3 166.9l2.35 2.35 -2.35 2.35 -2.35 -2.35zM189.3 168.6l2.35 2.35 -2.35 2.35 -2.35 -2.35zM189.3 170.2l2.35 2.35 -2.35 2.35 -2.35 -2.35zM189.3 171.9l2.35 2.35 -2.35 2.35 -2.35 -2.35zM189.3 173.5l2.35 2.35 -2.35 2.35 -2.35 -2.35zM189.3 175.2l2.35 2.35 -2.35 2.35 -2.35 -2.35zM189.3 176.8l2.35 2.35 -2.35 2.35 -2.35 -2.35zM189.3 178.5l2.35 2.35 -2.35 2.35 -2.35 -2.35zM194.8 167.5l2.35 2.35 -2.35 2.35 -2.35 -2.35zM194.8 169.2l2.35 2.35 -2.35 2.35 -2.35 -2.35zM194.8 170.9l2.35 2.35 -2.35 2.35 -2.35 -2.35zM194.8 172.6l2.35 2.35 -2.35 2.35 -2.35 -2.35zM194.8 174.3l2.35 2.35 -2.35 2.35 -2.35 -2.35zM194.8 176.0l2.35 2.35 -2.35 2.35 -2.35 -2.35zM171.0 158.8l2.35 2.35 -2.35 2.35 -2.35 -2.35zM177.0 159.7l2.35 2.35 -2.35 2.35 -2.35 -2.35zM183.0 158.8l2.35 2.35 -2.35 2.35 -2.35 -2.35zM189.0 159.7l2.35 2.35 -2.35 2.35 -2.35 -2.35zM165.0 160.2l2.35 2.35 -2.35 2.35 -2.35 -2.35zM195.0 160.2l2.35 2.35 -2.35 2.35 -2.35 -2.35zM194.9 181.6l2.35 2.35 -2.35 2.35 -2.35 -2.35zM164.9 181.6l2.35 2.35 -2.35 2.35 -2.35 -2.35zM170.9 181.6l2.35 2.35 -2.35 2.35 -2.35 -2.35zM188.9 181.6l2.35 2.35 -2.35 2.35 -2.35 -2.35zM192.9 183.8l2.35 2.35 -2.35 2.35 -2.35 -2.35zM194.9 183.8l2.35 2.35 -2.35 2.35 -2.35 -2.35zM164.9 183.8l2.35 2.35 -2.35 2.35 -2.35 -2.35zM166.9 183.8l2.35 2.35 -2.35 2.35 -2.35 -2.35zM169.9 183.8l2.35 2.35 -2.35 2.35 -2.35 -2.35zM189.9 183.8l2.35 2.35 -2.35 2.35 -2.35 -2.35zM194.9 186.2l2.35 2.35 -2.35 2.35 -2.35 -2.35zM164.9 186.2l2.35 2.35 -2.35 2.35 -2.35 -2.35zM171.9 186.2l2.35 2.35 -2.35 2.35 -2.35 -2.35zM174.9 186.2l2.35 2.35 -2.35 2.35 -2.35 -2.35zM184.9 186.2l2.35 2.35 -2.35 2.35 -2.35 -2.35zM187.9 186.2l2.35 2.35 -2.35 2.35 -2.35 -2.35zM194.9 188.5l2.35 2.35 -2.35 2.35 -2.35 -2.35zM164.9 188.5l2.35 2.35 -2.35 2.35 -2.35 -2.35zM176.9 188.5l2.35 2.35 -2.35 2.35 -2.35 -2.35zM179.9 188.5l2.35 2.35 -2.35 2.35 -2.35 -2.35zM182.9 188.5l2.35 2.35 -2.35 2.35 -2.35 -2.35zM194.9 190.8l2.35 2.35 -2.35 2.35 -2.35 -2.35zM164.9 190.8l2.35 2.35 -2.35 2.35 -2.35 -2.35zM170.9 190.8l2.35 2.35 -2.35 2.35 -2.35 -2.35zM171.9 190.8l2.35 2.35 -2.35 2.35 -2.35 -2.35zM174.9 190.8l2.35 2.35 -2.35 2.35 -2.35 -2.35zM176.9 190.8l2.35 2.35 -2.35 2.35 -2.35 -2.35zM182.9 190.8l2.35 2.35 -2.35 2.35 -2.35 -2.35zM184.9 190.8l2.35 2.35 -2.35 2.35 -2.35 -2.35zM187.9 190.8l2.35 2.35 -2.35 2.35 -2.35 -2.35zM188.9 190.8l2.35 2.35 -2.35 2.35 -2.35 -2.35zM192.9 193.1l2.35 2.35 -2.35 2.35 -2.35 -2.35zM194.9 193.1l2.35 2.35 -2.35 2.35 -2.35 -2.35zM164.9 193.1l2.35 2.35 -2.35 2.35 -2.35 -2.35zM166.9 193.1l2.35 2.35 -2.35 2.35 -2.35 -2.35zM167.9 193.1l2.35 2.35 -2.35 2.35 -2.35 -2.35zM169.9 193.1l2.35 2.35 -2.35 2.35 -2.35 -2.35zM173.9 193.1l2.35 2.35 -2.35 2.35 -2.35 -2.35zM179.9 193.1l2.35 2.35 -2.35 2.35 -2.35 -2.35zM185.9 193.1l2.35 2.35 -2.35 2.35 -2.35 -2.35zM189.9 193.1l2.35 2.35 -2.35 2.35 -2.35 -2.35zM191.9 193.1l2.35 2.35 -2.35 2.35 -2.35 -2.35zM194.9 195.3l2.35 2.35 -2.35 2.35 -2.35 -2.35zM164.9 195.3l2.35 2.35 -2.35 2.35 -2.35 -2.35zM170.9 195.3l2.35 2.35 -2.35 2.35 -2.35 -2.35zM176.9 195.3l2.35 2.35 -2.35 2.35 -2.35 -2.35zM182.9 195.3l2.35 2.35 -2.35 2.35 -2.35 -2.35zM188.9 195.3l2.35 2.35 -2.35 2.35 -2.35 -2.35zM191.9 197.7l2.35 2.35 -2.35 2.35 -2.35 -2.35zM194.9 197.7l2.35 2.35 -2.35 2.35 -2.35 -2.35zM164.9 197.7l2.35 2.35 -2.35 2.35 -2.35 -2.35zM167.9 197.7l2.35 2.35 -2.35 2.35 -2.35 -2.35zM173.9 197.7l2.35 2.35 -2.35 2.35 -2.35 -2.35zM179.9 197.7l2.35 2.35 -2.35 2.35 -2.35 -2.35zM185.9 197.7l2.35 2.35 -2.35 2.35 -2.35 -2.35zM292.7 66.4l2.35 2.35 -2.35 2.35 -2.35 -2.35zM289.8 115.2l2.35 2.35 -2.35 2.35 -2.35 -2.35zM295.9 115.2l2.35 2.35 -2.35 2.35 -2.35 -2.35zM286.7 119.7l2.35 2.35 -2.35 2.35 -2.35 -2.35zM292.7 124.2l2.35 2.35 -2.35 2.35 -2.35 -2.35zM299.1 124.2l2.35 2.35 -2.35 2.35 -2.35 -2.35zM292.9 135.5l2.35 2.35 -2.35 2.35 -2.35 -2.35zM289.8 141.8l2.35 2.35 -2.35 2.35 -2.35 -2.35zM296.0 141.8l2.35 2.35 -2.35 2.35 -2.35 -2.35zM292.9 150.8l2.35 2.35 -2.35 2.35 -2.35 -2.35zM286.9 155.0l2.35 2.35 -2.35 2.35 -2.35 -2.35zM298.8 155.2l2.35 2.35 -2.35 2.35 -2.35 -2.35zM292.9 157.1l2.35 2.35 -2.35 2.35 -2.35 -2.35zM290.0 159.5l2.35 2.35 -2.35 2.35 -2.35 -2.35zM292.4 158.1l2.35 2.35 -2.35 2.35 -2.35 -2.35zM295.8 163.8l2.35 2.35 -2.35 2.35 -2.35 -2.35zM284.0 166.2l2.35 2.35 -2.35 2.35 -2.35 -2.35zM289.8 166.2l2.35 2.35 -2.35 2.35 -2.35 -2.35zM302.0 166.2l2.35 2.35 -2.35 2.35 -2.35 -2.35zM278.5 172.1l2.35 2.35 -2.35 2.35 -2.35 -2.35zM281.0 170.3l2.35 2.35 -2.35 2.35 -2.35 -2.35zM286.9 170.8l2.35 2.35 -2.35 2.35 -2.35 -2.35zM292.8 170.0l2.35 2.35 -2.35 2.35 -2.35 -2.35zM295.8 169.1l2.35 2.35 -2.35 2.35 -2.35 -2.35zM298.8 171.2l2.35 2.35 -2.35 2.35 -2.35 -2.35zM304.7 170.8l2.35 2.35 -2.35 2.35 -2.35 -2.35zM284.0 175.0l2.35 2.35 -2.35 2.35 -2.35 -2.35zM290.3 173.3l2.35 2.35 -2.35 2.35 -2.35 -2.35zM295.8 177.2l2.35 2.35 -2.35 2.35 -2.35 -2.35zM301.7 177.2l2.35 2.35 -2.35 2.35 -2.35 -2.35zM307.6 175.0l2.35 2.35 -2.35 2.35 -2.35 -2.35zM278.0 179.2l2.35 2.35 -2.35 2.35 -2.35 -2.35zM284.0 179.8l2.35 2.35 -2.35 2.35 -2.35 -2.35zM289.9 177.6l2.35 2.35 -2.35 2.35 -2.35 -2.35zM301.7 179.7l2.35 2.35 -2.35 2.35 -2.35 -2.35zM307.6 179.7l2.35 2.35 -2.35 2.35 -2.35 -2.35zM295.8 180.7l2.35 2.35 -2.35 2.35 -2.35 -2.35zM290.0 181.7l2.35 2.35 -2.35 2.35 -2.35 -2.35zM375.2 66.4l2.35 2.35 -2.35 2.35 -2.35 -2.35zM378.0 66.4l2.35 2.35 -2.35 2.35 -2.35 -2.35zM380.8 66.4l2.35 2.35 -2.35 2.35 -2.35 -2.35zM383.6 66.4l2.35 2.35 -2.35 2.35 -2.35 -2.35zM386.4 66.4l2.35 2.35 -2.35 2.35 -2.35 -2.35zM392.9 66.4l2.35 2.35 -2.35 2.35 -2.35 -2.35zM398.9 66.4l2.35 2.35 -2.35 2.35 -2.35 -2.35zM386.9 77.7l2.35 2.35 -2.35 2.35 -2.35 -2.35zM386.9 83.9l2.35 2.35 -2.35 2.35 -2.35 -2.35zM377.8 86.2l2.35 2.35 -2.35 2.35 -2.35 -2.35zM395.8 86.2l2.35 2.35 -2.35 2.35 -2.35 -2.35zM390.0 88.7l2.35 2.35 -2.35 2.35 -2.35 -2.35zM383.8 90.9l2.35 2.35 -2.35 2.35 -2.35 -2.35zM380.7 107.7l2.35 2.35 -2.35 2.35 -2.35 -2.35zM392.7 107.7l2.35 2.35 -2.35 2.35 -2.35 -2.35zM386.4 111.2l2.35 2.35 -2.35 2.35 -2.35 -2.35zM386.9 124.1l2.35 2.35 -2.35 2.35 -2.35 -2.35zM383.8 132.8l2.35 2.35 -2.35 2.35 -2.35 -2.35zM380.7 135.3l2.35 2.35 -2.35 2.35 -2.35 -2.35zM390.0 132.8l2.35 2.35 -2.35 2.35 -2.35 -2.35zM393.2 135.3l2.35 2.35 -2.35 2.35 -2.35 -2.35zM386.9 139.5l2.35 2.35 -2.35 2.35 -2.35 -2.35zM383.8 148.0l2.35 2.35 -2.35 2.35 -2.35 -2.35zM389.8 148.0l2.35 2.35 -2.35 2.35 -2.35 -2.35zM374.8 150.8l2.35 2.35 -2.35 2.35 -2.35 -2.35zM398.8 150.8l2.35 2.35 -2.35 2.35 -2.35 -2.35zM380.4 152.8l2.35 2.35 -2.35 2.35 -2.35 -2.35zM392.7 152.8l2.35 2.35 -2.35 2.35 -2.35 -2.35zM386.6 155.1l2.35 2.35 -2.35 2.35 -2.35 -2.35zM377.7 157.2l2.35 2.35 -2.35 2.35 -2.35 -2.35zM395.9 159.2l2.35 2.35 -2.35 2.35 -2.35 -2.35zM383.8 161.1l2.35 2.35 -2.35 2.35 -2.35 -2.35zM390.0 161.1l2.35 2.35 -2.35 2.35 -2.35 -2.35zM374.9 166.5l2.35 2.35 -2.35 2.35 -2.35 -2.35zM380.9 166.5l2.35 2.35 -2.35 2.35 -2.35 -2.35zM386.9 166.5l2.35 2.35 -2.35 2.35 -2.35 -2.35zM392.9 166.5l2.35 2.35 -2.35 2.35 -2.35 -2.35zM398.9 166.5l2.35 2.35 -2.35 2.35 -2.35 -2.35zM380.9 168.9l2.35 2.35 -2.35 2.35 -2.35 -2.35zM386.9 168.9l2.35 2.35 -2.35 2.35 -2.35 -2.35zM392.9 168.9l2.35 2.35 -2.35 2.35 -2.35 -2.35zM374.9 171.3l2.35 2.35 -2.35 2.35 -2.35 -2.35zM380.9 171.3l2.35 2.35 -2.35 2.35 -2.35 -2.35zM386.9 171.3l2.35 2.35 -2.35 2.35 -2.35 -2.35zM392.9 171.3l2.35 2.35 -2.35 2.35 -2.35 -2.35zM398.9 171.3l2.35 2.35 -2.35 2.35 -2.35 -2.35zM371.9 173.8l2.35 2.35 -2.35 2.35 -2.35 -2.35zM377.9 173.8l2.35 2.35 -2.35 2.35 -2.35 -2.35zM383.9 173.8l2.35 2.35 -2.35 2.35 -2.35 -2.35zM389.9 173.8l2.35 2.35 -2.35 2.35 -2.35 -2.35zM395.9 173.8l2.35 2.35 -2.35 2.35 -2.35 -2.35zM401.9 173.8l2.35 2.35 -2.35 2.35 -2.35 -2.35zM368.9 176.2l2.35 2.35 -2.35 2.35 -2.35 -2.35zM374.9 176.2l2.35 2.35 -2.35 2.35 -2.35 -2.35zM380.9 176.2l2.35 2.35 -2.35 2.35 -2.35 -2.35zM386.9 176.2l2.35 2.35 -2.35 2.35 -2.35 -2.35zM392.9 176.2l2.35 2.35 -2.35 2.35 -2.35 -2.35zM398.9 176.2l2.35 2.35 -2.35 2.35 -2.35 -2.35zM404.9 176.2l2.35 2.35 -2.35 2.35 -2.35 -2.35zM368.9 178.7l2.35 2.35 -2.35 2.35 -2.35 -2.35zM374.9 178.7l2.35 2.35 -2.35 2.35 -2.35 -2.35zM380.9 178.7l2.35 2.35 -2.35 2.35 -2.35 -2.35zM386.9 178.7l2.35 2.35 -2.35 2.35 -2.35 -2.35zM392.9 178.7l2.35 2.35 -2.35 2.35 -2.35 -2.35zM398.9 178.7l2.35 2.35 -2.35 2.35 -2.35 -2.35zM404.9 178.7l2.35 2.35 -2.35 2.35 -2.35 -2.35zM383.9 181.1l2.35 2.35 -2.35 2.35 -2.35 -2.35zM389.9 181.1l2.35 2.35 -2.35 2.35 -2.35 -2.35zM374.9 183.6l2.35 2.35 -2.35 2.35 -2.35 -2.35zM380.9 183.6l2.35 2.35 -2.35 2.35 -2.35 -2.35zM386.9 183.6l2.35 2.35 -2.35 2.35 -2.35 -2.35zM392.9 183.6l2.35 2.35 -2.35 2.35 -2.35 -2.35zM398.9 183.6l2.35 2.35 -2.35 2.35 -2.35 -2.35zM371.9 186.0l2.35 2.35 -2.35 2.35 -2.35 -2.35zM377.9 186.0l2.35 2.35 -2.35 2.35 -2.35 -2.35zM383.9 186.0l2.35 2.35 -2.35 2.35 -2.35 -2.35zM389.9 186.0l2.35 2.35 -2.35 2.35 -2.35 -2.35zM395.9 186.0l2.35 2.35 -2.35 2.35 -2.35 -2.35zM401.9 186.0l2.35 2.35 -2.35 2.35 -2.35 -2.35zM371.9 188.5l2.35 2.35 -2.35 2.35 -2.35 -2.35zM377.9 188.5l2.35 2.35 -2.35 2.35 -2.35 -2.35zM383.9 188.5l2.35 2.35 -2.35 2.35 -2.35 -2.35zM389.9 188.5l2.35 2.35 -2.35 2.35 -2.35 -2.35zM395.9 188.5l2.35 2.35 -2.35 2.35 -2.35 -2.35zM401.9 188.5l2.35 2.35 -2.35 2.35 -2.35 -2.35zM380.9 190.9l2.35 2.35 -2.35 2.35 -2.35 -2.35zM386.9 190.9l2.35 2.35 -2.35 2.35 -2.35 -2.35zM392.9 190.9l2.35 2.35 -2.35 2.35 -2.35 -2.35zM383.9 193.4l2.35 2.35 -2.35 2.35 -2.35 -2.35zM389.9 193.4l2.35 2.35 -2.35 2.35 -2.35 -2.35zM374.9 195.8l2.35 2.35 -2.35 2.35 -2.35 -2.35zM380.9 195.8l2.35 2.35 -2.35 2.35 -2.35 -2.35zM386.9 195.8l2.35 2.35 -2.35 2.35 -2.35 -2.35zM392.9 195.8l2.35 2.35 -2.35 2.35 -2.35 -2.35zM398.9 195.8l2.35 2.35 -2.35 2.35 -2.35 -2.35zM377.9 198.3l2.35 2.35 -2.35 2.35 -2.35 -2.35zM383.9 198.3l2.35 2.35 -2.35 2.35 -2.35 -2.35zM389.9 198.3l2.35 2.35 -2.35 2.35 -2.35 -2.35zM395.9 198.3l2.35 2.35 -2.35 2.35 -2.35 -2.35z" fill="#000"/>
<line x1="161.4" y1="163.5" x2="199.5" y2="163.5" stroke="#000" stroke-width="3.2"/>
<line x1="274.7" y1="187.4" x2="311.5" y2="187.4" stroke="#000" stroke-width="3"/>
<line x1="368.4" y1="166.3" x2="405.6" y2="166.3" stroke="#000" stroke-width="2.8"/>
<line x1="406.4" y1="170.2" x2="442.8" y2="170.2" stroke="#000" stroke-width="3"/>
<g fill="#fff"><ellipse cx="72.8" cy="190.6" rx="1.35" ry="1.35"/><ellipse cx="78.8" cy="190.6" rx="1.35" ry="1.35"/><ellipse cx="87.5" cy="190.6" rx="1.35" ry="1.35"/><ellipse cx="93.3" cy="190.6" rx="1.35" ry="1.35"/><ellipse cx="99" cy="190.6" rx="1.35" ry="1.35"/><ellipse cx="74" cy="196.4" rx="1.35" ry="1.35"/><ellipse cx="80.3" cy="196.4" rx="1.35" ry="1.35"/><ellipse cx="86" cy="196.4" rx="1.35" ry="1.35"/><ellipse cx="92.3" cy="196.4" rx="1.35" ry="1.35"/><ellipse cx="97.6" cy="196.4" rx="1.35" ry="1.35"/><ellipse cx="110" cy="191.7" rx="1.3" ry="1.3"/><ellipse cx="117.8" cy="191.7" rx="1.3" ry="1.3"/><ellipse cx="123.6" cy="191.7" rx="1.3" ry="1.3"/><ellipse cx="129.3" cy="191.7" rx="1.3" ry="1.3"/><ellipse cx="136" cy="191.7" rx="1.3" ry="1.3"/><ellipse cx="114.9" cy="196.8" rx="1.3" ry="1.3"/><ellipse cx="120.7" cy="196.8" rx="1.3" ry="1.3"/><ellipse cx="126.9" cy="196.8" rx="1.3" ry="1.3"/><ellipse cx="133.2" cy="196.8" rx="1.3" ry="1.3"/><ellipse cx="208.7" cy="170.5" rx="0.9" ry="0.9"/><ellipse cx="214.7" cy="170.5" rx="0.9" ry="0.9"/><ellipse cx="220.7" cy="170.5" rx="0.9" ry="0.9"/><ellipse cx="226.7" cy="170.5" rx="0.9" ry="0.9"/><ellipse cx="211.7" cy="175.5" rx="0.9" ry="0.9"/><ellipse cx="217.7" cy="175.5" rx="0.9" ry="0.9"/><ellipse cx="223.7" cy="175.5" rx="0.9" ry="0.9"/><ellipse cx="205.7" cy="186" rx="0.9" ry="0.9"/><ellipse cx="211.7" cy="186" rx="0.9" ry="0.9"/><ellipse cx="217.7" cy="186" rx="0.9" ry="0.9"/><ellipse cx="223.7" cy="186" rx="0.9" ry="0.9"/><ellipse cx="229.7" cy="186" rx="0.9" ry="0.9"/><ellipse cx="208.7" cy="191.5" rx="0.9" ry="0.9"/><ellipse cx="214.7" cy="191.5" rx="0.9" ry="0.9"/><ellipse cx="220.7" cy="191.5" rx="0.9" ry="0.9"/><ellipse cx="226.7" cy="191.5" rx="0.9" ry="0.9"/><ellipse cx="205.7" cy="197.2" rx="0.9" ry="0.9"/><ellipse cx="211.7" cy="197.2" rx="0.9" ry="0.9"/><ellipse cx="217.7" cy="197.2" rx="0.9" ry="0.9"/><ellipse cx="223.7" cy="197.2" rx="0.9" ry="0.9"/><ellipse cx="229.7" cy="197.2" rx="0.9" ry="0.9"/><ellipse cx="281" cy="191.6" rx="0.7" ry="1.9" transform="rotate(45 281 191.6)"/><ellipse cx="287.8" cy="191.6" rx="0.7" ry="1.9" transform="rotate(45 287.8 191.6)"/><ellipse cx="297.9" cy="191.6" rx="0.7" ry="1.9" transform="rotate(-45 297.9 191.6)"/><ellipse cx="303.8" cy="191.6" rx="0.7" ry="1.9" transform="rotate(-45 303.8 191.6)"/><ellipse cx="292.8" cy="191.6" rx="0.8" ry="0.8"/><ellipse cx="283.5" cy="196.5" rx="1.1" ry="1.1"/><ellipse cx="289.9" cy="196.5" rx="1.1" ry="1.1"/><ellipse cx="295.4" cy="196.5" rx="1.1" ry="1.1"/><ellipse cx="302.1" cy="196.5" rx="1.1" ry="1.1"/><ellipse cx="320.7" cy="183.5" rx="0.6" ry="2.0" transform="rotate(20 320.7 183.5)"/><ellipse cx="326.2" cy="183.5" rx="0.6" ry="2.0" transform="rotate(20 326.2 183.5)"/><ellipse cx="334.2" cy="183.5" rx="0.6" ry="2.0" transform="rotate(-20 334.2 183.5)"/><ellipse cx="340.1" cy="183.5" rx="0.6" ry="2.0" transform="rotate(-20 340.1 183.5)"/><ellipse cx="321.5" cy="196.8" rx="1.1" ry="1.1"/><ellipse cx="327.5" cy="196.8" rx="1.1" ry="1.1"/><ellipse cx="333.4" cy="196.8" rx="1.1" ry="1.1"/><ellipse cx="339.3" cy="196.8" rx="1.1" ry="1.1"/><ellipse cx="318.5" cy="191.5" rx="0.8" ry="0.8"/><ellipse cx="324.5" cy="191.5" rx="0.8" ry="0.8"/><ellipse cx="330.5" cy="191.5" rx="0.8" ry="0.8"/><ellipse cx="336.5" cy="191.5" rx="0.8" ry="0.8"/><ellipse cx="342.5" cy="191.5" rx="0.8" ry="0.8"/><ellipse cx="374.3" cy="197.6" rx="0.8" ry="1.3" transform="rotate(40 374.3 197.6)"/><ellipse cx="381" cy="197.6" rx="0.8" ry="1.3" transform="rotate(40 381 197.6)"/><ellipse cx="387" cy="197.6" rx="0.8" ry="1.3" transform="rotate(40 387 197.6)"/><ellipse cx="393.3" cy="197.6" rx="0.8" ry="1.3" transform="rotate(40 393.3 197.6)"/><ellipse cx="398.8" cy="197.6" rx="0.8" ry="1.3" transform="rotate(40 398.8 197.6)"/><ellipse cx="412.3" cy="177" rx="0.55" ry="1.6"/><ellipse cx="418.2" cy="177" rx="0.55" ry="1.6"/><ellipse cx="424.2" cy="177" rx="0.55" ry="1.6"/><ellipse cx="430.1" cy="177" rx="0.55" ry="1.6"/><ellipse cx="436" cy="177" rx="0.55" ry="1.6"/><ellipse cx="412.3" cy="182.5" rx="0.55" ry="1.6"/><ellipse cx="418.2" cy="182.5" rx="0.55" ry="1.6"/><ellipse cx="424.2" cy="182.5" rx="0.55" ry="1.6"/><ellipse cx="430.1" cy="182.5" rx="0.55" ry="1.6"/><ellipse cx="436" cy="182.5" rx="0.55" ry="1.6"/><ellipse cx="412.3" cy="188" rx="0.55" ry="1.6"/><ellipse cx="418.2" cy="188" rx="0.55" ry="1.6"/><ellipse cx="424.2" cy="188" rx="0.55" ry="1.6"/><ellipse cx="430.1" cy="188" rx="0.55" ry="1.6"/><ellipse cx="436" cy="188" rx="0.55" ry="1.6"/><ellipse cx="412.3" cy="193" rx="0.55" ry="1.6"/><ellipse cx="418.2" cy="193" rx="0.55" ry="1.6"/><ellipse cx="424.2" cy="193" rx="0.55" ry="1.6"/><ellipse cx="430.1" cy="193" rx="0.55" ry="1.6"/><ellipse cx="436" cy="193" rx="0.55" ry="1.6"/><ellipse cx="414.8" cy="197.3" rx="1.1" ry="1.1"/><ellipse cx="421.2" cy="197.3" rx="1.1" ry="1.1"/><ellipse cx="427.5" cy="197.3" rx="1.1" ry="1.1"/><ellipse cx="433" cy="197.3" rx="1.1" ry="1.1"/></g></g>
<text x="2.18" y="17.20" font-size="23.5" textLength="17.89" lengthAdjust="spacingAndGlyphs" font-weight="bold">A</text>
<line x1="58.2" y1="58.3" x2="58.2" y2="203" stroke="#000" stroke-width="2"/>
<line x1="52" y1="202" x2="453" y2="202" stroke="#000" stroke-width="2"/>
<line x1="52" y1="68.6" x2="58" y2="68.6" stroke="#000" stroke-width="2"/>
<line x1="52" y1="90.85" x2="58" y2="90.85" stroke="#000" stroke-width="2"/>
<line x1="52" y1="113.1" x2="58" y2="113.1" stroke="#000" stroke-width="2"/>
<line x1="52" y1="135.35" x2="58" y2="135.35" stroke="#000" stroke-width="2"/>
<line x1="52" y1="157.6" x2="58" y2="157.6" stroke="#000" stroke-width="2"/>
<line x1="52" y1="179.85" x2="58" y2="179.85" stroke="#000" stroke-width="2"/>
<text x="28.40" y="74.80" font-size="16.4" textLength="19.44" lengthAdjust="spacingAndGlyphs">30</text>
<text x="28.22" y="97.05" font-size="16.4" textLength="19.63" lengthAdjust="spacingAndGlyphs">25</text>
<text x="28.22" y="119.30" font-size="16.4" textLength="19.63" lengthAdjust="spacingAndGlyphs">20</text>
<text x="27.74" y="141.55" font-size="16.4" textLength="20.12" lengthAdjust="spacingAndGlyphs">15</text>
<text x="27.74" y="163.80" font-size="16.4" textLength="20.12" lengthAdjust="spacingAndGlyphs">10</text>
<text x="38.66" y="186.05" font-size="16.4" textLength="8.90" lengthAdjust="spacingAndGlyphs">5</text>
<text x="38.66" y="208.30" font-size="16.4" textLength="8.90" lengthAdjust="spacingAndGlyphs">0</text>
<line x1="54.5" y1="113.2" x2="453" y2="113.2" stroke="#000" stroke-width="2.6" stroke-dasharray="7.8 2.2"/>
<text x="471.17" y="116.50" font-size="16.6" textLength="49.83" lengthAdjust="spacingAndGlyphs">20 min</text>
<text x="74.92" y="221.70" font-size="16.6" textLength="23.88" lengthAdjust="spacingAndGlyphs">WT</text>
<text x="112.78" y="221.70" font-size="16.6" textLength="21.31" lengthAdjust="spacingAndGlyphs">ctrl</text>
<text x="168.42" y="221.70" font-size="16.6" textLength="24.90" lengthAdjust="spacingAndGlyphs">WT</text>
<text x="206.24" y="221.70" font-size="16.6" textLength="22.62" lengthAdjust="spacingAndGlyphs">ctrl</text>
<text x="268.42" y="221.70" font-size="16.6" textLength="46.76" lengthAdjust="spacingAndGlyphs">WHIM</text>
<text x="320.79" y="221.70" font-size="16.6" textLength="21.09" lengthAdjust="spacingAndGlyphs">ctrl</text>
<text x="361.92" y="221.70" font-size="16.6" textLength="45.42" lengthAdjust="spacingAndGlyphs">WHIM</text>
<text x="413.02" y="221.70" font-size="16.6" textLength="23.16" lengthAdjust="spacingAndGlyphs">ctrl</text>
<line x1="65.8" y1="227.7" x2="146.5" y2="227.7" stroke="#000" stroke-width="2"/>
<line x1="159.6" y1="227.7" x2="240" y2="227.7" stroke="#000" stroke-width="2"/>
<line x1="273.5" y1="227.7" x2="354.2" y2="227.7" stroke="#000" stroke-width="2"/>
<line x1="365.8" y1="227.7" x2="448.5" y2="227.7" stroke="#000" stroke-width="2"/>
<text x="77.61" y="245.00" font-size="16.6" textLength="56.20" lengthAdjust="spacingAndGlyphs">no pept</text>
<text x="180.23" y="245.00" font-size="16.6" textLength="34.81" lengthAdjust="spacingAndGlyphs">OVA</text>
<text x="285.10" y="245.00" font-size="16.6" textLength="56.51" lengthAdjust="spacingAndGlyphs">no pept</text>
<text x="386.22" y="245.00" font-size="16.6" textLength="35.33" lengthAdjust="spacingAndGlyphs">OVA</text>
<line x1="65.4" y1="253.1" x2="446.5" y2="253.1" stroke="#000" stroke-width="2"/>
<text x="219.12" y="270.40" font-size="16.6" textLength="73.48" lengthAdjust="spacingAndGlyphs">AMD3100</text>
<line x1="179.2" y1="13.2" x2="388.8" y2="13.2" stroke="#000" stroke-width="2"/>
<text x="273.92" y="9.50" font-size="16.6" textLength="26.81" lengthAdjust="spacingAndGlyphs">n.s.</text>
<line x1="121.5" y1="29.6" x2="217.8" y2="29.6" stroke="#000" stroke-width="2"/>
<text x="169.40" y="29.23" font-size="17" font-weight="bold" text-anchor="middle" style="stroke-width:0.15px">*</text>
<line x1="330" y1="29.6" x2="425.4" y2="29.6" stroke="#000" stroke-width="2"/>
<text x="369.20" y="29.29" font-size="17" font-weight="bold" text-anchor="middle" style="stroke-width:0.15px">*</text>
<text x="377.40" y="29.29" font-size="17" font-weight="bold" text-anchor="middle" style="stroke-width:0.15px">*</text>
<text x="385.60" y="29.29" font-size="17" font-weight="bold" text-anchor="middle" style="stroke-width:0.15px">*</text>
<line x1="179.2" y1="49.8" x2="217.8" y2="49.8" stroke="#000" stroke-width="2"/>
<text x="199.30" y="50.29" font-size="17" font-weight="bold" text-anchor="middle" style="stroke-width:0.15px">*</text>
<line x1="385" y1="49.8" x2="423.5" y2="49.8" stroke="#000" stroke-width="2"/>
<text x="391.13" y="45.30" font-size="15.6" textLength="26.59" lengthAdjust="spacingAndGlyphs">n.s.</text>
<line x1="83.8" y1="62" x2="180.4" y2="62" stroke="#000" stroke-width="2"/>
<text x="126.35" y="62.04" font-size="17" font-weight="bold" text-anchor="middle" style="stroke-width:0.15px">*</text>
<text x="134.60" y="62.04" font-size="17" font-weight="bold" text-anchor="middle" style="stroke-width:0.15px">*</text>
<text x="142.85" y="62.04" font-size="17" font-weight="bold" text-anchor="middle" style="stroke-width:0.15px">*</text>
<line x1="290.8" y1="62.6" x2="387" y2="62.6" stroke="#000" stroke-width="2"/>
<text x="331.50" y="62.04" font-size="17" font-weight="bold" text-anchor="middle" style="stroke-width:0.15px">*</text>
<text x="339.90" y="62.04" font-size="17" font-weight="bold" text-anchor="middle" style="stroke-width:0.15px">*</text>
<text x="348.30" y="62.04" font-size="17" font-weight="bold" text-anchor="middle" style="stroke-width:0.15px">*</text>
<g transform="translate(12.9,198.7) rotate(-90)">
<text x="-1.47" y="0.00" font-size="17" textLength="153.28" lengthAdjust="spacingAndGlyphs">Interaction time (min)</text>
</g>
<text x="1.49" y="307.60" font-size="25" textLength="16.81" lengthAdjust="spacingAndGlyphs" font-weight="bold">B</text>
<line x1="57.5" y1="338.3" x2="57.5" y2="541" stroke="#000" stroke-width="2"/>
<line x1="51.7" y1="540" x2="452.5" y2="540" stroke="#000" stroke-width="2"/>
<line x1="51.7" y1="339.5" x2="57.5" y2="339.5" stroke="#000" stroke-width="2"/>
<line x1="51.7" y1="379.6" x2="57.5" y2="379.6" stroke="#000" stroke-width="2"/>
<line x1="51.7" y1="419.7" x2="57.5" y2="419.7" stroke="#000" stroke-width="2"/>
<line x1="51.7" y1="459.8" x2="57.5" y2="459.8" stroke="#000" stroke-width="2"/>
<line x1="51.7" y1="499.9" x2="57.5" y2="499.9" stroke="#000" stroke-width="2"/>
<text x="31.04" y="345.70" font-size="16.4" textLength="19.19" lengthAdjust="spacingAndGlyphs">25</text>
<text x="31.04" y="385.80" font-size="16.4" textLength="19.19" lengthAdjust="spacingAndGlyphs">20</text>
<text x="30.57" y="425.90" font-size="16.4" textLength="19.68" lengthAdjust="spacingAndGlyphs">15</text>
<text x="30.57" y="466.00" font-size="16.4" textLength="19.68" lengthAdjust="spacingAndGlyphs">10</text>
<text x="40.73" y="506.00" font-size="16.4" textLength="9.37" lengthAdjust="spacingAndGlyphs">5</text>
<text x="40.73" y="546.10" font-size="16.4" textLength="9.37" lengthAdjust="spacingAndGlyphs">0</text>
<rect x="67" y="523.96" width="37.7" height="16.039999999999964" fill="#ababab" stroke="#000" stroke-width="2"/>
<rect x="104.7" y="531.579" width="37.60000000000001" height="8.42100000000005" fill="#fff" stroke="#000" stroke-width="2"/>
<rect x="161" y="410.47700000000003" width="38" height="129.52299999999997" fill="#ababab" stroke="#000" stroke-width="2"/>
<rect x="199" y="479.6896" width="37.5" height="60.310400000000016" fill="#fff" stroke="#000" stroke-width="2"/>
<rect x="272.7" y="533.985" width="38.5" height="6.014999999999986" fill="#000" stroke="#000" stroke-width="2"/>
<rect x="311.2" y="529.975" width="38.400000000000034" height="10.024999999999977" fill="#fff" stroke="#000" stroke-width="2"/>
<rect x="367" y="411.68" width="38.80000000000001" height="128.32" fill="#000" stroke="#000" stroke-width="2"/>
<rect x="405.8" y="468.4616" width="37.30000000000001" height="71.53840000000002" fill="#fff" stroke="#000" stroke-width="2"/>
<line x1="51.7" y1="540" x2="452.5" y2="540" stroke="#000" stroke-width="2"/>
<text x="73.72" y="559.40" font-size="16.6" textLength="24.59" lengthAdjust="spacingAndGlyphs">WT</text>
<text x="110.76" y="559.40" font-size="16.6" textLength="21.85" lengthAdjust="spacingAndGlyphs">ctrl</text>
<text x="167.22" y="559.40" font-size="16.6" textLength="23.47" lengthAdjust="spacingAndGlyphs">WT</text>
<text x="205.05" y="559.40" font-size="16.6" textLength="22.07" lengthAdjust="spacingAndGlyphs">ctrl</text>
<text x="270.72" y="559.40" font-size="16.6" textLength="41.70" lengthAdjust="spacingAndGlyphs">WHIM</text>
<text x="321.31" y="559.40" font-size="16.6" textLength="20.54" lengthAdjust="spacingAndGlyphs">ctrl</text>
<text x="361.42" y="559.40" font-size="16.6" textLength="43.87" lengthAdjust="spacingAndGlyphs">WHIM</text>
<text x="413.68" y="559.40" font-size="16.6" textLength="21.42" lengthAdjust="spacingAndGlyphs">ctrl</text>
<line x1="65.4" y1="566" x2="142.3" y2="566" stroke="#000" stroke-width="2"/>
<line x1="158.5" y1="566" x2="237.7" y2="566" stroke="#000" stroke-width="2"/>
<line x1="268.8" y1="566" x2="349.6" y2="566" stroke="#000" stroke-width="2"/>
<line x1="365" y1="566" x2="445.6" y2="566" stroke="#000" stroke-width="2"/>
<text x="76.63" y="581.90" font-size="16.6" textLength="54.98" lengthAdjust="spacingAndGlyphs">no pept</text>
<text x="178.02" y="581.90" font-size="16.6" textLength="35.53" lengthAdjust="spacingAndGlyphs">OVA</text>
<text x="281.96" y="581.90" font-size="16.6" textLength="53.55" lengthAdjust="spacingAndGlyphs">no pept</text>
<text x="387.04" y="581.90" font-size="16.6" textLength="34.30" lengthAdjust="spacingAndGlyphs">OVA</text>
<line x1="65.4" y1="589.8" x2="445.2" y2="589.8" stroke="#000" stroke-width="2"/>
<text x="217.42" y="606.20" font-size="16.6" textLength="72.47" lengthAdjust="spacingAndGlyphs">AMD3100</text>
<line x1="83.8" y1="394.1" x2="180" y2="394.1" stroke="#000" stroke-width="2"/>
<text x="125.35" y="392.88" font-size="17" font-weight="bold" text-anchor="middle" style="stroke-width:0.15px">*</text>
<text x="133.82" y="392.88" font-size="17" font-weight="bold" text-anchor="middle" style="stroke-width:0.15px">*</text>
<text x="142.30" y="392.88" font-size="17" font-weight="bold" text-anchor="middle" style="stroke-width:0.15px">*</text>
<line x1="178.5" y1="352" x2="388.8" y2="352" stroke="#000" stroke-width="2"/>
<text x="271.31" y="348.40" font-size="15.6" textLength="27.03" lengthAdjust="spacingAndGlyphs">n.s.</text>
<line x1="289.2" y1="394.9" x2="386.3" y2="394.9" stroke="#000" stroke-width="2"/>
<text x="331.15" y="394.03" font-size="17" font-weight="bold" text-anchor="middle" style="stroke-width:0.15px">*</text>
<text x="339.32" y="394.03" font-size="17" font-weight="bold" text-anchor="middle" style="stroke-width:0.15px">*</text>
<text x="347.50" y="394.03" font-size="17" font-weight="bold" text-anchor="middle" style="stroke-width:0.15px">*</text>
<g transform="translate(12.8,552.3) rotate(-90)">
<text x="-0.82" y="0.00" font-size="17.2" textLength="233.92" lengthAdjust="spacingAndGlyphs">Cells interacting for ≥ 20min (%)</text>
</g>
</svg></body></html>
